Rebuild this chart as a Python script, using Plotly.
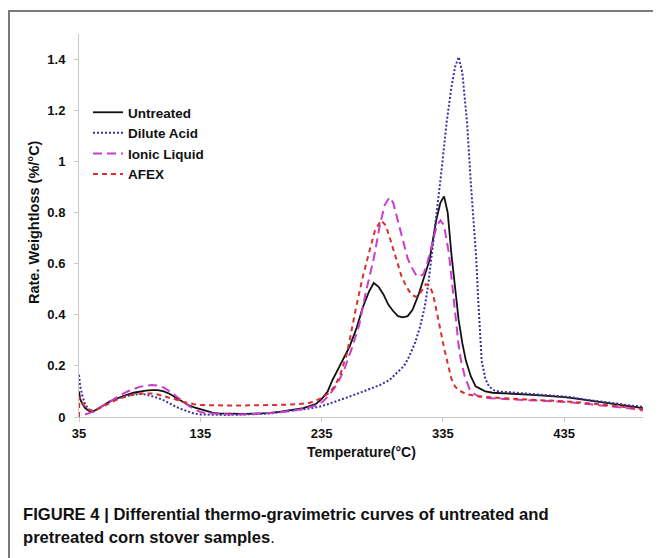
import plotly.graph_objects as go

# ---------------- data ----------------
untreated_T = [35, 36, 38, 40, 43, 46, 50, 55, 60, 65, 70, 75, 80, 85, 90, 95, 100, 105, 110, 115,
               120, 125, 130, 135, 140, 145, 150, 160, 170, 180, 190, 200, 210, 220, 230, 235, 240,
               244, 250, 258, 264, 269, 274, 278, 282, 286, 290, 294, 298, 302, 306, 310, 315, 320,
               324, 329.5, 333, 336, 339, 342, 345, 348, 351, 354, 358, 362, 366, 370, 376, 385,
               395, 405, 415, 425, 435, 445, 455, 465, 475, 485, 495, 500]
untreated_V = [0.10, 0.07, 0.05, 0.035, 0.025, 0.02, 0.03, 0.045, 0.06, 0.07, 0.08, 0.088, 0.095,
               0.10, 0.103, 0.105, 0.105, 0.10, 0.09, 0.075, 0.06, 0.047, 0.038, 0.03, 0.022, 0.017,
               0.014, 0.012, 0.012, 0.013, 0.015, 0.02, 0.027, 0.035, 0.05, 0.07, 0.10, 0.145, 0.20,
               0.275, 0.35, 0.43, 0.49, 0.525, 0.51, 0.48, 0.44, 0.415, 0.395, 0.39, 0.395, 0.42,
               0.48, 0.55, 0.615, 0.77, 0.84, 0.864, 0.80, 0.64, 0.50, 0.38, 0.29, 0.22, 0.16, 0.12,
               0.11, 0.10, 0.095, 0.092, 0.09, 0.088, 0.085, 0.082, 0.078, 0.072, 0.065, 0.058,
               0.052, 0.047, 0.04, 0.035]

acid_T = [35, 36, 38, 40, 43, 46, 50, 55, 60, 65, 70, 75, 80, 85, 90, 95, 100, 105, 110, 115, 120,
          125, 130, 135, 145, 155, 165, 175, 185, 195, 205, 215, 225, 233, 240, 250, 258, 266, 275,
          283, 291, 298, 303, 307, 312, 316, 320, 323, 326, 330, 334, 338, 342, 345, 348, 351, 353,
          355, 358, 360, 362.5, 364, 365.5, 367, 370, 373, 377, 381, 390, 400, 410, 420, 430, 440,
          450, 460, 470, 480, 490, 500]
acid_V = [0.165, 0.12, 0.08, 0.05, 0.03, 0.02, 0.03, 0.045, 0.06, 0.07, 0.078, 0.083, 0.087, 0.09,
          0.088, 0.083, 0.075, 0.065, 0.052, 0.04, 0.03, 0.02, 0.013, 0.01, 0.008, 0.008, 0.009,
          0.01, 0.012, 0.015, 0.02, 0.027, 0.033, 0.04, 0.05, 0.065, 0.08, 0.094, 0.11, 0.125,
          0.145, 0.175, 0.20, 0.235, 0.29, 0.35, 0.43, 0.52, 0.64, 0.80, 0.97, 1.15, 1.29, 1.37,
          1.41, 1.35, 1.25, 1.15, 0.92, 0.78, 0.62, 0.47, 0.33, 0.22, 0.15, 0.12, 0.105, 0.10,
          0.097, 0.093, 0.09, 0.087, 0.083, 0.078, 0.07, 0.063, 0.056, 0.05, 0.045, 0.04]

ionic_T = [40, 43, 46, 50, 55, 60, 65, 70, 75, 80, 85, 90, 95, 100, 105, 110, 115, 120, 125, 130,
           135, 140, 150, 160, 170, 180, 190, 200, 210, 220, 230, 236, 242, 248, 254, 260, 266, 272,
           278, 283, 287, 291, 294, 298, 302, 306, 310, 313, 316, 319, 322, 326, 330, 333, 336, 340,
           343, 346, 348, 350, 353, 357, 361, 365, 370, 380, 390, 400, 410, 420, 430, 440, 450,
           460, 470, 480, 490, 500]
ionic_V = [0.01, 0.015, 0.02, 0.03, 0.045, 0.06, 0.075, 0.088, 0.10, 0.11, 0.118, 0.123, 0.125,
           0.123, 0.115, 0.10, 0.082, 0.062, 0.045, 0.03, 0.02, 0.015, 0.012, 0.01, 0.01, 0.012,
           0.014, 0.018, 0.024, 0.032, 0.045, 0.06, 0.09, 0.13, 0.19, 0.27, 0.36, 0.50, 0.62,
           0.75, 0.83, 0.86, 0.84, 0.77, 0.69, 0.62, 0.58, 0.555, 0.55, 0.56, 0.60, 0.68, 0.75,
           0.77, 0.75, 0.64, 0.50, 0.36, 0.28, 0.22, 0.16, 0.11, 0.09, 0.08, 0.075, 0.072, 0.07,
           0.068, 0.066, 0.064, 0.062, 0.058, 0.053, 0.048, 0.043, 0.038, 0.033, 0.025]

afex_T = [35, 35.3, 37, 40, 43, 46, 50, 55, 60, 65, 70, 75, 80, 85, 90, 95, 100, 105, 110, 115, 120,
          125, 130, 135, 145, 155, 165, 175, 185, 195, 205, 215, 225, 233, 240, 245, 250, 256,
          263.5, 269, 274.5, 279, 284, 288, 292, 296.5, 301, 305, 309, 313, 317, 321, 324, 327,
          330, 333, 336, 339, 342, 345, 348, 352, 356, 362, 370, 380, 390, 400, 410, 420, 430,
          440, 450, 460, 470, 480, 490, 500]
afex_V = [0.0, 0.08, 0.06, 0.04, 0.03, 0.025, 0.03, 0.042, 0.055, 0.065, 0.075, 0.082, 0.088,
          0.092, 0.093, 0.092, 0.088, 0.082, 0.075, 0.068, 0.06, 0.054, 0.05, 0.047, 0.045, 0.045,
          0.045, 0.045, 0.046, 0.047, 0.048, 0.05, 0.055, 0.07, 0.09, 0.115, 0.16, 0.25, 0.43,
          0.55, 0.65, 0.73, 0.77, 0.75, 0.69, 0.615, 0.55, 0.51, 0.48, 0.47, 0.49, 0.52, 0.515,
          0.48, 0.41, 0.33, 0.27, 0.21, 0.15, 0.12, 0.105, 0.095, 0.088, 0.082, 0.078, 0.075,
          0.072, 0.07, 0.068, 0.066, 0.063, 0.06, 0.056, 0.052, 0.047, 0.042, 0.036, 0.03]

x_ticks = [35, 135, 235, 335, 435]
y_ticks = [0, 0.2, 0.4, 0.6, 0.8, 1.0, 1.2, 1.4]
y_tick_text = ["0", "0.2", "0.4", "0.6", "0.8", "1", "1.2", "1.4"]

# ---------------- figure ----------------
# The page body has an 8px margin, so the figure is drawn 8px in from the window edge.
OFF = 8
W, H = 661 - OFF, 558 - OFF
# plot area in screen pixels: x 79..643, y 34..417
SX0, SX1, SY0, SY1 = 79, 643, 34, 417
L, R, T, B = SX0 - OFF, W - (SX1 - OFF), SY0 - OFF, H - (SY1 - OFF)
PW, PH = W - L - R, H - T - B

def px_x(sx):
    """screen x -> paper x"""
    return (sx - OFF - L) / PW

def px_y(sy):
    """screen y -> paper y"""
    return (H - B - (sy - OFF)) / PH

FONT = "Arial, Liberation Sans, sans-serif"
INK = "#111111"

fig = go.Figure()
series = [
    ("Untreated", untreated_T, untreated_V, "#111111", "solid", 1.8),
    ("Dilute Acid", acid_T, acid_V, "#3b2f9e", "2px,2px", 2.0),
    ("Ionic Liquid", ionic_T, ionic_V, "#cc3ccc", "9px,5px", 2.0),
    ("AFEX", afex_T, afex_V, "#d8312c", "5px,4px", 2.0),
]
for name, xs, ys, col, dash, w in series:
    fig.add_trace(go.Scatter(x=xs, y=ys, mode="lines", name=name,
                             line=dict(color=col, dash=dash, width=w)))

fig.update_layout(
    width=W, height=H,
    margin=dict(l=L, r=R, t=T, b=B),
    paper_bgcolor="white", plot_bgcolor="white",
    showlegend=True,
    legend=dict(x=px_x(88), y=px_y(97), xanchor="left", yanchor="top",
                bgcolor="rgba(0,0,0,0)", itemwidth=30, tracegroupgap=0,
                font=dict(family=FONT, size=13.5, color=INK, weight="bold")),
    font=dict(family=FONT, color=INK),
)
fig.update_xaxes(range=[35, 500], tickvals=x_ticks, ticktext=[str(v) for v in x_ticks],
                 showgrid=False, zeroline=False, showline=True, linecolor="#c8c8c8", linewidth=1,
                 ticks="outside", ticklen=4, tickcolor="#c8c8c8",
                 tickfont=dict(family=FONT, size=13, color=INK, weight="bold"))
fig.update_yaxes(range=[0, 1.5], tickvals=y_ticks, ticktext=y_tick_text,
                 showgrid=False, zeroline=False, showline=True, linecolor="#c8c8c8", linewidth=1,
                 ticks="outside", ticklen=4, tickcolor="#c8c8c8", ticklabelstandoff=6,
                 tickfont=dict(family=FONT, size=13, color=INK, weight="bold"))

# axis titles
fig.add_annotation(text="Temperature(°C)", xref="paper", yref="paper", x=px_x(361), y=px_y(452),
                   showarrow=False, xanchor="center", yanchor="middle",
                   font=dict(family=FONT, size=14, color=INK, weight="bold"))
fig.add_annotation(text="Rate. Weightloss (%/°C)", xref="paper", yref="paper", x=px_x(34), y=px_y(222),
                   showarrow=False, xanchor="center", yanchor="middle", textangle=-90,
                   font=dict(family=FONT, size=14.5, color=INK, weight="bold"))

# caption
fig.add_annotation(text="FIGURE 4 | Differential thermo-gravimetric curves of untreated and",
                   xref="paper", yref="paper", x=px_x(21), y=px_y(514), showarrow=False,
                   xanchor="left", yanchor="middle",
                   font=dict(family=FONT, size=16.6, color=INK, weight="bold"))
fig.add_annotation(text="pretreated corn stover samples<span style='font-weight:normal'>.</span>",
                   xref="paper", yref="paper", x=px_x(21), y=px_y(537), showarrow=False,
                   xanchor="left", yanchor="middle",
                   font=dict(family=FONT, size=16.6, color=INK, weight="bold"))

# outer frame
fig.add_shape(type="rect", xref="paper", yref="paper", x0=px_x(9), y0=px_y(620), x1=px_x(720), y1=px_y(11),
              line=dict(color="#7a7a7a", width=2), fillcolor="rgba(0,0,0,0)", layer="below")

fig.write_html("out.html")
